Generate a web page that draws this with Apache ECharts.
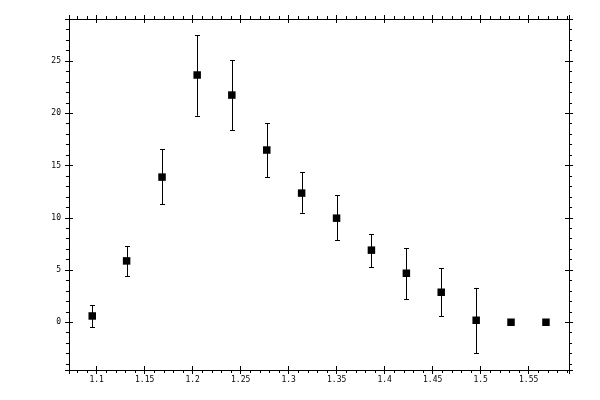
<!DOCTYPE html>
<html>
<head>
<meta charset="utf-8">
<script src="https://cdn.jsdelivr.net/npm/echarts@6/dist/echarts.min.js"></script>
<style>html,body{margin:0;padding:0;background:#fff}#c{width:600px;height:400px}</style>
</head>
<body>
<div id="c"></div>
<script>
var xValues = [1.0954, 1.1312, 1.1681, 1.2047, 1.2408, 1.2772, 1.3135, 1.3499, 1.3862, 1.4226, 1.4589, 1.4953, 1.5316, 1.568];
var yValues = [0.60, 5.87, 13.89, 23.66, 21.74, 16.48, 12.36, 9.96, 6.90, 4.69, 2.87, 0.19, 0.0, 0.0];
var yLow    = [-0.48, 4.41, 11.30, 19.76, 18.39, 13.89, 10.47, 7.85, 5.27, 2.20, 0.60, -2.97, 0.0, 0.0];
var yHigh   = [1.63, 7.28, 16.57, 27.49, 25.10, 19.02, 14.37, 12.16, 8.43, 7.09, 5.17, 3.29, 0.0, 0.0];

var X_MIN = 1.0712, X_MAX = 1.592;
var Y_MIN = -4.57, Y_MAX = 29.02;

var font = {fontFamily: 'DejaVu Sans Mono', fontSize: 8, color: '#000'};

function xAx(pos, inside, labels, line) {
  return {
    type: 'value', position: pos, min: X_MIN, max: X_MAX, splitNumber: 10,
    axisLine: {show: line, onZero: false, lineStyle: {color: '#000', width: 1}},
    axisTick: {show: true, inside: inside, length: 4, lineStyle: {color: '#000', width: 1}},
    minorTick: {show: !inside, splitNumber: 5, length: 3, lineStyle: {color: '#000', width: 1}},
    axisLabel: labels ? Object.assign({show: true, margin: 6, showMinLabel: false, showMaxLabel: false}, font) : {show: false},
    splitLine: {show: false}
  };
}
function yAx(pos, inside, labels, line) {
  return {
    type: 'value', position: pos, min: Y_MIN, max: Y_MAX, splitNumber: 7,
    axisLine: {show: line, onZero: false, lineStyle: {color: '#000', width: 1}},
    axisTick: {show: true, inside: inside, length: 4, lineStyle: {color: '#000', width: 1}},
    minorTick: {show: !inside, splitNumber: 5, length: 3, lineStyle: {color: '#000', width: 1}},
    axisLabel: labels ? Object.assign({show: true, margin: 8, showMinLabel: false, showMaxLabel: false}, font) : {show: false},
    splitLine: {show: false}
  };
}

var errData = xValues.map(function (x, i) { return [x, yLow[i], yHigh[i]]; });
var ptData = xValues.map(function (x, i) { return [x, yValues[i]]; });

var chart = echarts.init(document.getElementById('c'), null, {renderer: 'canvas'});
chart.setOption({
  animation: false,
  backgroundColor: '#fff',
  grid: {left: 69, right: 31, top: 19, bottom: 30, containLabel: false},
  xAxis: [xAx('bottom', false, true, true), xAx('bottom', true, false, false), xAx('top', false, false, true), xAx('top', true, false, false)],
  yAxis: [yAx('left', false, true, true), yAx('left', true, false, false), yAx('right', false, false, true), yAx('right', true, false, false)],
  series: [
    {
      type: 'custom', xAxisIndex: 0, yAxisIndex: 0, data: errData,
      renderItem: function (params, api) {
        var lo = api.coord([api.value(0), api.value(1)]);
        var hi = api.coord([api.value(0), api.value(2)]);
        if (Math.abs(lo[1] - hi[1]) < 0.5) return null;
        var x = Math.round(lo[0]) + 0.5;
        var st = {stroke: '#000', lineWidth: 1};
        return {type: 'group', children: [
          {type: 'line', shape: {x1: x, y1: hi[1], x2: x, y2: lo[1]}, style: st},
          {type: 'line', shape: {x1: x - 2.5, y1: Math.round(hi[1]) + 0.5, x2: x + 2.5, y2: Math.round(hi[1]) + 0.5}, style: st},
          {type: 'line', shape: {x1: x - 2.5, y1: Math.round(lo[1]) + 0.5, x2: x + 2.5, y2: Math.round(lo[1]) + 0.5}, style: st}
        ]};
      }
    },
    {
      type: 'scatter', xAxisIndex: 0, yAxisIndex: 0, data: ptData,
      symbol: 'rect', symbolSize: 7.5, itemStyle: {color: '#000', opacity: 1}, z: 5
    }
  ]
});
</script>
</body>
</html>
